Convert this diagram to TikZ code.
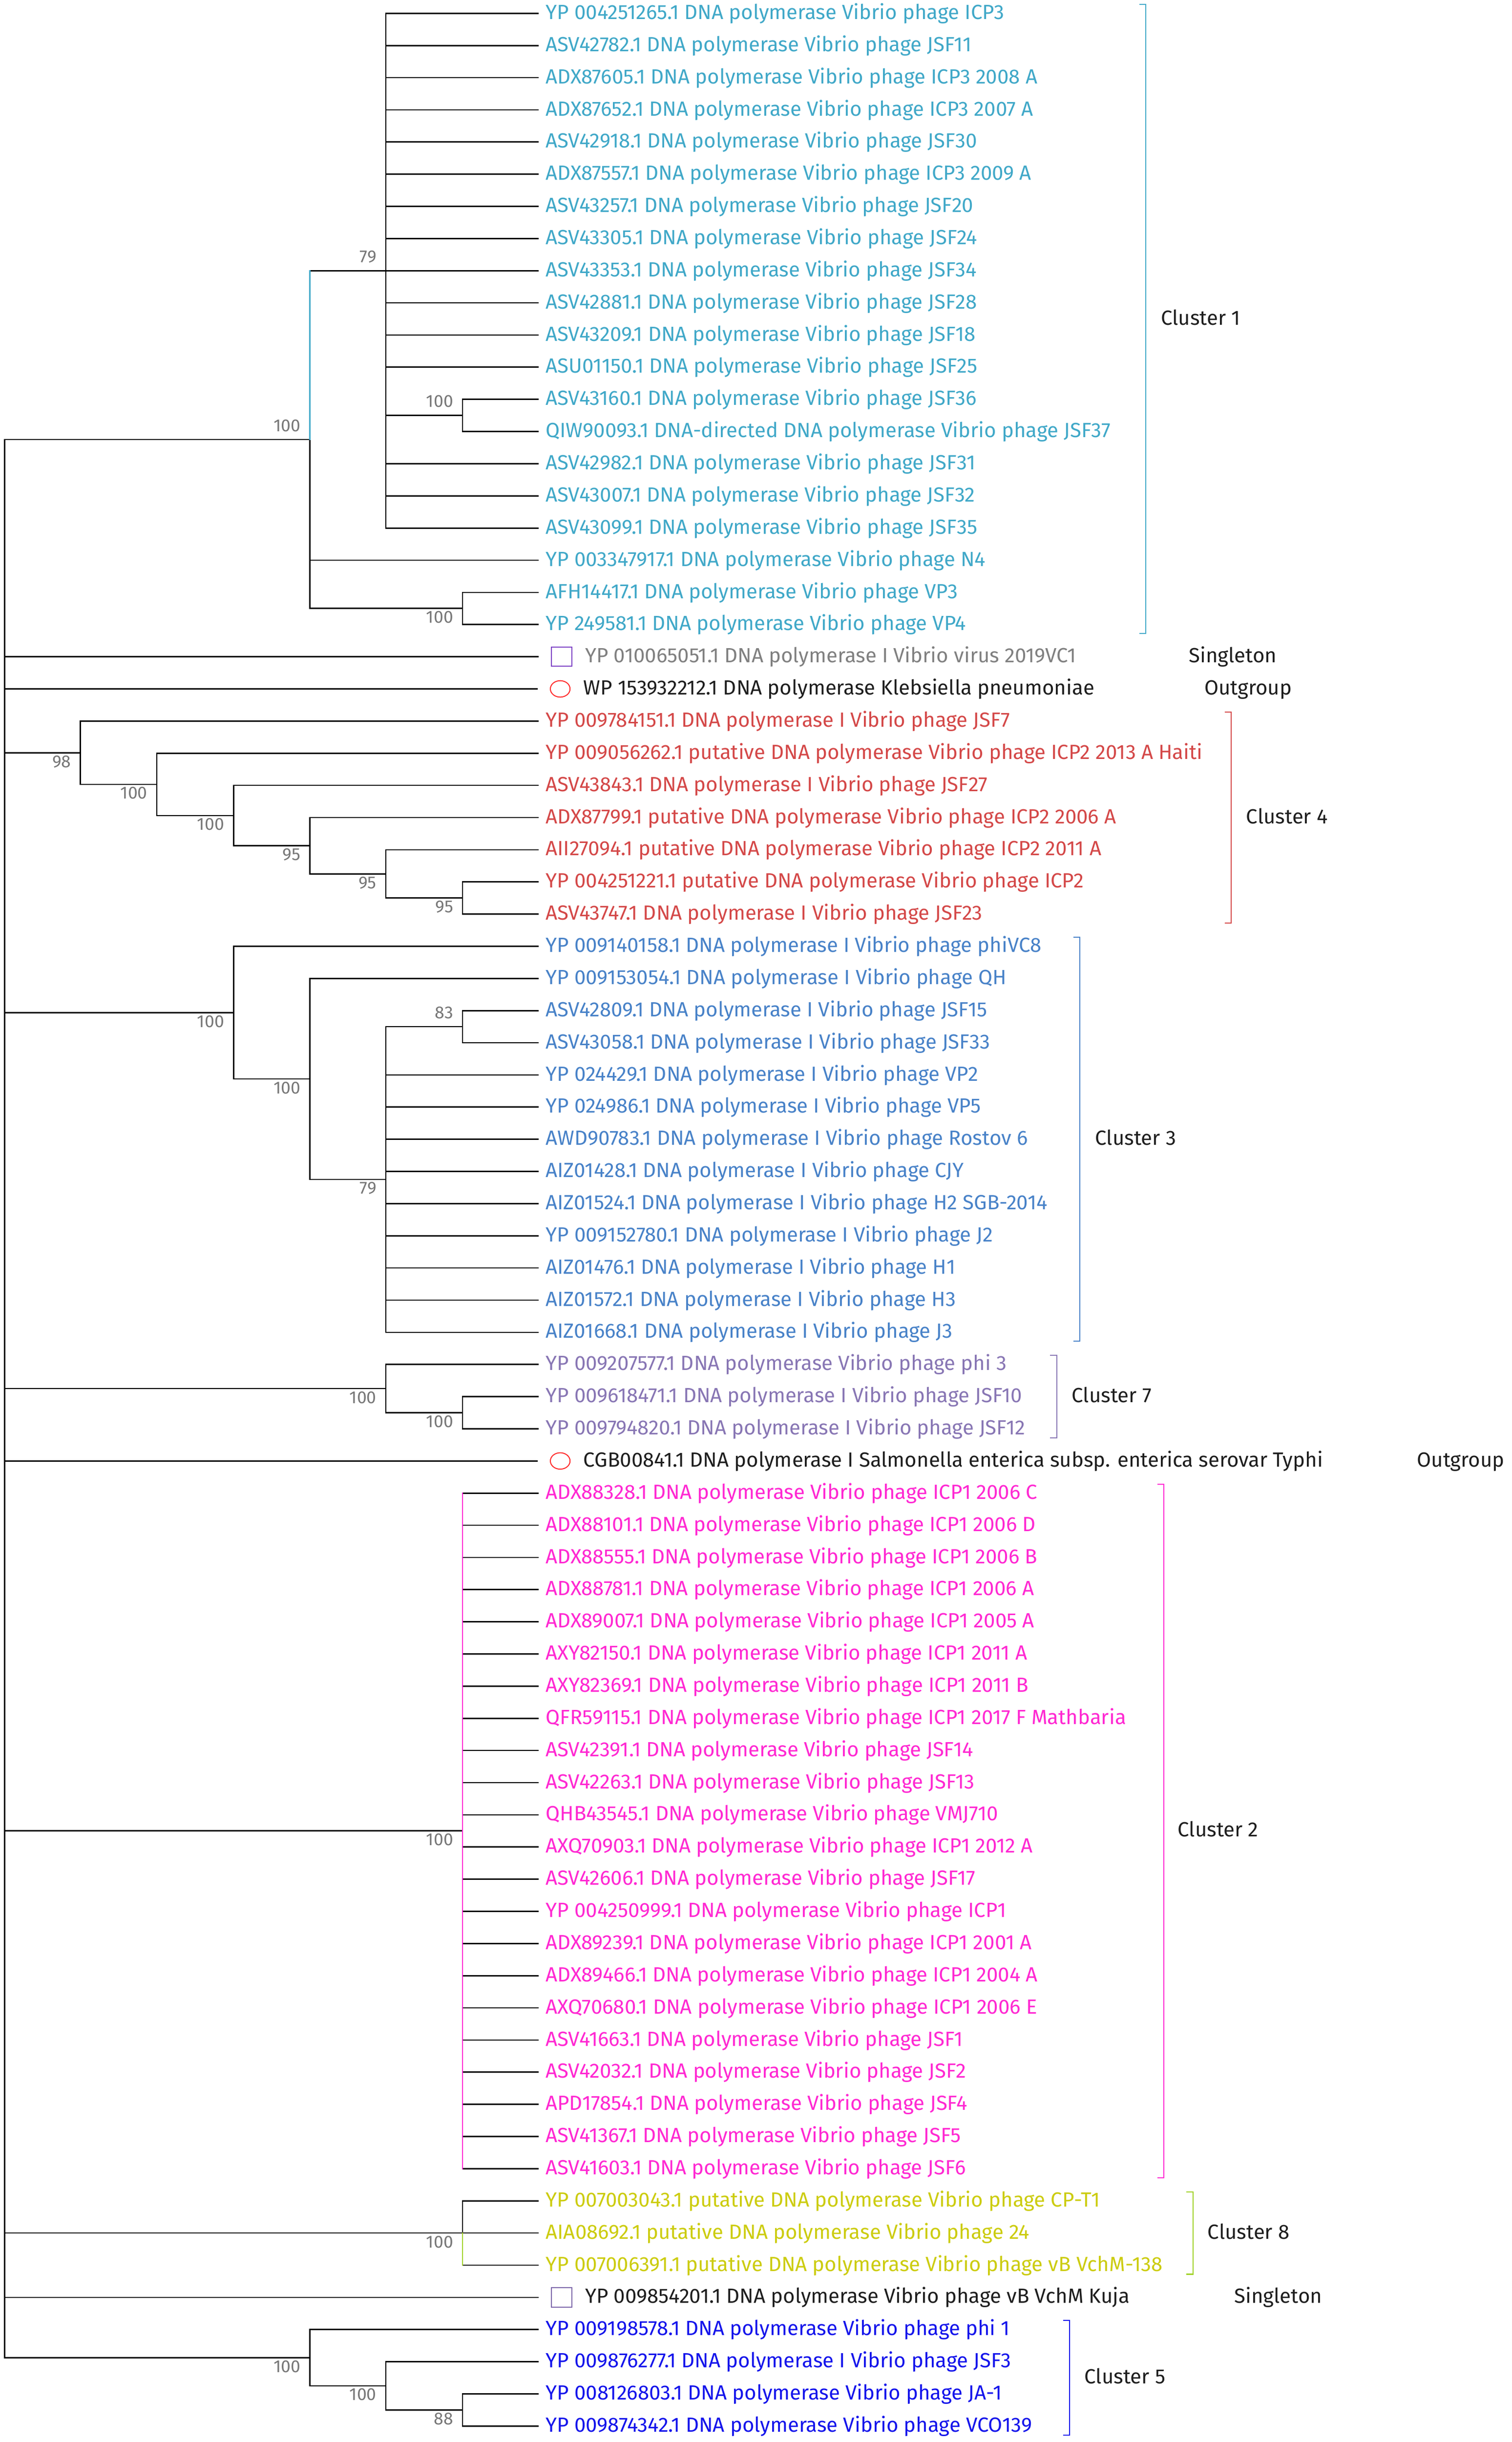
\documentclass[tikz,border=0pt]{standalone}
\usepackage{fontspec}
\setmainfont{Fira Sans}
\usetikzlibrary{positioning,shapes.geometric}

\definecolor{cOne}{HTML}{40A8C8}
\definecolor{cFour}{HTML}{D44848}
\definecolor{cThree}{HTML}{4882C8}
\definecolor{cSeven}{HTML}{8876B4}
\definecolor{cTwo}{HTML}{FF28D2}
\definecolor{cEight}{HTML}{CCCC10}
\definecolor{cEightLine}{HTML}{A0D228}
\definecolor{cFive}{HTML}{1414EB}
\definecolor{bootgray}{HTML}{777777}
\definecolor{singlegray}{HTML}{808080}
\definecolor{sqpurple}{HTML}{7B3FC4}
\definecolor{sqmuted}{HTML}{7A64A8}
\definecolor{ovred}{HTML}{FF2A2A}
\definecolor{labelblack}{HTML}{1E1E1E}

\tikzset{
  branch/.style={line width=0.8pt, line cap=rect},
  leaf/.style={anchor=west, inner xsep=4.5pt, inner ysep=0pt,
    font=\fontsize{12.5}{14}\selectfont, text height=0.72em, text depth=0pt},
  supabove/.style={anchor=base east, inner sep=0pt, xshift=-5.5pt, yshift=5pt,
    text=bootgray, font=\fontsize{10.6}{12}\selectfont},
  supbelow/.style={supabove, yshift=-13.9pt},
  bracket/.style={line width=0.7pt},
  clusterlabel/.style={anchor=west, inner sep=0pt, text=labelblack,
    font=\fontsize{12.5}{14}\selectfont, text height=0.72em, text depth=0pt},
  sqmark/.style={draw, rectangle, minimum width=12.5pt, minimum height=11.75pt,
    inner sep=0pt, outer xsep=8pt, outer ysep=0pt, line width=0.6pt},
  ovmark/.style={draw=ovred, ellipse, minimum width=12pt, minimum height=10pt,
    inner sep=0pt, outer xsep=8pt, outer ysep=0pt, line width=0.6pt},
}

\begin{document}
\begin{tikzpicture}[x=0.25pt, y=-19.595pt]

    \useasboundingbox (0,-0.4147) rectangle (3684,75.497);

    % Define nodes
    % Cluster 1
    \node[leaf, cOne] (l0)  at (1311,0)  {YP 004251265.1 DNA polymerase Vibrio phage ICP3};
    \node[leaf, cOne] (l1)  at (1311,1)  {ASV42782.1 DNA polymerase Vibrio phage JSF11};
    \node[leaf, cOne] (l2)  at (1311,2)  {ADX87605.1 DNA polymerase Vibrio phage ICP3 2008 A};
    \node[leaf, cOne] (l3)  at (1311,3)  {ADX87652.1 DNA polymerase Vibrio phage ICP3 2007 A};
    \node[leaf, cOne] (l4)  at (1311,4)  {ASV42918.1 DNA polymerase Vibrio phage JSF30};
    \node[leaf, cOne] (l5)  at (1311,5)  {ADX87557.1 DNA polymerase Vibrio phage ICP3 2009 A};
    \node[leaf, cOne] (l6)  at (1311,6)  {ASV43257.1 DNA polymerase Vibrio phage JSF20};
    \node[leaf, cOne] (l7)  at (1311,7)  {ASV43305.1 DNA polymerase Vibrio phage JSF24};
    \node[leaf, cOne] (l8)  at (1311,8)  {ASV43353.1 DNA polymerase Vibrio phage JSF34};
    \node[leaf, cOne] (l9)  at (1311,9)  {ASV42881.1 DNA polymerase Vibrio phage JSF28};
    \node[leaf, cOne] (l10) at (1311,10) {ASV43209.1 DNA polymerase Vibrio phage JSF18};
    \node[leaf, cOne] (l11) at (1311,11) {ASU01150.1 DNA polymerase Vibrio phage JSF25};
    \node[leaf, cOne] (l12) at (1311,12) {ASV43160.1 DNA polymerase Vibrio phage JSF36};
    \node[leaf, cOne] (l13) at (1311,13) {QIW90093.1 DNA-directed DNA polymerase Vibrio phage JSF37};
    \node[leaf, cOne] (l14) at (1311,14) {ASV42982.1 DNA polymerase Vibrio phage JSF31};
    \node[leaf, cOne] (l15) at (1311,15) {ASV43007.1 DNA polymerase Vibrio phage JSF32};
    \node[leaf, cOne] (l16) at (1311,16) {ASV43099.1 DNA polymerase Vibrio phage JSF35};
    \node[leaf, cOne] (l17) at (1311,17) {YP 003347917.1 DNA polymerase Vibrio phage N4};
    \node[leaf, cOne] (l18) at (1311,18) {AFH14417.1 DNA polymerase Vibrio phage VP3};
    \node[leaf, cOne] (l19) at (1311,19) {YP 249581.1 DNA polymerase Vibrio phage VP4};

    % Singleton and outgroup
    \node[sqmark, draw=sqpurple] (s20) at (1368,20) {};
    \node[leaf, inner xsep=0pt, singlegray] (l20) at (s20.east) {YP 010065051.1 DNA polymerase I Vibrio virus 2019VC1};
    \node[ovmark] (s21) at (1365,21) {};
    \node[leaf, inner xsep=0pt, labelblack] (l21) at (s21.east) {WP 153932212.1 DNA polymerase Klebsiella pneumoniae};

    % Cluster 4
    \node[leaf, cFour] (l22) at (1311,22) {YP 009784151.1 DNA polymerase I Vibrio phage JSF7};
    \node[leaf, cFour] (l23) at (1311,23) {YP 009056262.1 putative DNA polymerase Vibrio phage ICP2 2013 A Haiti};
    \node[leaf, cFour] (l24) at (1311,24) {ASV43843.1 DNA polymerase I Vibrio phage JSF27};
    \node[leaf, cFour] (l25) at (1311,25) {ADX87799.1 putative DNA polymerase Vibrio phage ICP2 2006 A};
    \node[leaf, cFour] (l26) at (1311,26) {AII27094.1 putative DNA polymerase Vibrio phage ICP2 2011 A};
    \node[leaf, cFour] (l27) at (1311,27) {YP 004251221.1 putative DNA polymerase Vibrio phage ICP2};
    \node[leaf, cFour] (l28) at (1311,28) {ASV43747.1 DNA polymerase I Vibrio phage JSF23};

    % Cluster 3
    \node[leaf, cThree] (l29) at (1311,29) {YP 009140158.1 DNA polymerase I Vibrio phage phiVC8};
    \node[leaf, cThree] (l30) at (1311,30) {YP 009153054.1 DNA polymerase I Vibrio phage QH};
    \node[leaf, cThree] (l31) at (1311,31) {ASV42809.1 DNA polymerase I Vibrio phage JSF15};
    \node[leaf, cThree] (l32) at (1311,32) {ASV43058.1 DNA polymerase I Vibrio phage JSF33};
    \node[leaf, cThree] (l33) at (1311,33) {YP 024429.1 DNA polymerase I Vibrio phage VP2};
    \node[leaf, cThree] (l34) at (1311,34) {YP 024986.1 DNA polymerase I Vibrio phage VP5};
    \node[leaf, cThree] (l35) at (1311,35) {AWD90783.1 DNA polymerase I Vibrio phage Rostov 6};
    \node[leaf, cThree] (l36) at (1311,36) {AIZ01428.1 DNA polymerase I Vibrio phage CJY};
    \node[leaf, cThree] (l37) at (1311,37) {AIZ01524.1 DNA polymerase I Vibrio phage H2 SGB-2014};
    \node[leaf, cThree] (l38) at (1311,38) {YP 009152780.1 DNA polymerase I Vibrio phage J2};
    \node[leaf, cThree] (l39) at (1311,39) {AIZ01476.1 DNA polymerase I Vibrio phage H1};
    \node[leaf, cThree] (l40) at (1311,40) {AIZ01572.1 DNA polymerase I Vibrio phage H3};
    \node[leaf, cThree] (l41) at (1311,41) {AIZ01668.1 DNA polymerase I Vibrio phage J3};

    % Cluster 7
    \node[leaf, cSeven] (l42) at (1311,42) {YP 009207577.1 DNA polymerase Vibrio phage phi 3};
    \node[leaf, cSeven] (l43) at (1311,43) {YP 009618471.1 DNA polymerase I Vibrio phage JSF10};
    \node[leaf, cSeven] (l44) at (1311,44) {YP 009794820.1 DNA polymerase I Vibrio phage JSF12};

    % Outgroup
    \node[ovmark] (s45) at (1365,45) {};
    \node[leaf, inner xsep=0pt, labelblack] (l45) at (s45.east) {CGB00841.1 DNA polymerase I Salmonella enterica subsp. enterica serovar Typhi};

    % Cluster 2
    \node[leaf, cTwo] (l46) at (1311,46) {ADX88328.1 DNA polymerase Vibrio phage ICP1 2006 C};
    \node[leaf, cTwo] (l47) at (1311,47) {ADX88101.1 DNA polymerase Vibrio phage ICP1 2006 D};
    \node[leaf, cTwo] (l48) at (1311,48) {ADX88555.1 DNA polymerase Vibrio phage ICP1 2006 B};
    \node[leaf, cTwo] (l49) at (1311,49) {ADX88781.1 DNA polymerase Vibrio phage ICP1 2006 A};
    \node[leaf, cTwo] (l50) at (1311,50) {ADX89007.1 DNA polymerase Vibrio phage ICP1 2005 A};
    \node[leaf, cTwo] (l51) at (1311,51) {AXY82150.1 DNA polymerase Vibrio phage ICP1 2011 A};
    \node[leaf, cTwo] (l52) at (1311,52) {AXY82369.1 DNA polymerase Vibrio phage ICP1 2011 B};
    \node[leaf, cTwo] (l53) at (1311,53) {QFR59115.1 DNA polymerase Vibrio phage ICP1 2017 F Mathbaria};
    \node[leaf, cTwo] (l54) at (1311,54) {ASV42391.1 DNA polymerase Vibrio phage JSF14};
    \node[leaf, cTwo] (l55) at (1311,55) {ASV42263.1 DNA polymerase Vibrio phage JSF13};
    \node[leaf, cTwo] (l56) at (1311,56) {QHB43545.1 DNA polymerase Vibrio phage VMJ710};
    \node[leaf, cTwo] (l57) at (1311,57) {AXQ70903.1 DNA polymerase Vibrio phage ICP1 2012 A};
    \node[leaf, cTwo] (l58) at (1311,58) {ASV42606.1 DNA polymerase Vibrio phage JSF17};
    \node[leaf, cTwo] (l59) at (1311,59) {YP 004250999.1 DNA polymerase Vibrio phage ICP1};
    \node[leaf, cTwo] (l60) at (1311,60) {ADX89239.1 DNA polymerase Vibrio phage ICP1 2001 A};
    \node[leaf, cTwo] (l61) at (1311,61) {ADX89466.1 DNA polymerase Vibrio phage ICP1 2004 A};
    \node[leaf, cTwo] (l62) at (1311,62) {AXQ70680.1 DNA polymerase Vibrio phage ICP1 2006 E};
    \node[leaf, cTwo] (l63) at (1311,63) {ASV41663.1 DNA polymerase Vibrio phage JSF1};
    \node[leaf, cTwo] (l64) at (1311,64) {ASV42032.1 DNA polymerase Vibrio phage JSF2};
    \node[leaf, cTwo] (l65) at (1311,65) {APD17854.1 DNA polymerase Vibrio phage JSF4};
    \node[leaf, cTwo] (l66) at (1311,66) {ASV41367.1 DNA polymerase Vibrio phage JSF5};
    \node[leaf, cTwo] (l67) at (1311,67) {ASV41603.1 DNA polymerase Vibrio phage JSF6};

    % Cluster 8
    \node[leaf, cEight] (l68) at (1311,68) {YP 007003043.1 putative DNA polymerase Vibrio phage CP-T1};
    \node[leaf, cEight] (l69) at (1311,69) {AIA08692.1 putative DNA polymerase Vibrio phage 24};
    \node[leaf, cEight] (l70) at (1311,70) {YP 007006391.1 putative DNA polymerase Vibrio phage vB VchM-138};

    % Singleton
    \node[sqmark, draw=sqmuted] (s71) at (1368,71) {};
    \node[leaf, inner xsep=0pt, labelblack] (l71) at (s71.east) {YP 009854201.1 DNA polymerase Vibrio phage vB VchM Kuja};

    % Cluster 5
    \node[leaf, cFive] (l72) at (1311,72) {YP 009198578.1 DNA polymerase Vibrio phage phi 1};
    \node[leaf, cFive] (l73) at (1311,73) {YP 009876277.1 DNA polymerase I Vibrio phage JSF3};
    \node[leaf, cFive] (l74) at (1311,74) {YP 008126803.1 DNA polymerase Vibrio phage JA-1};
    \node[leaf, cFive] (l75) at (1311,75) {YP 009874342.1 DNA polymerase Vibrio phage VCO139};

    % Inner nodes of the tree
    \coordinate (root) at (11,43.0625);
    \coordinate (nA) at (755,13.25);
    \coordinate (nB) at (940,8);
    \coordinate (nC) at (1127,12.5);
    \coordinate (nD) at (1127,18.5);
    \coordinate (nE) at (196,22.984375);
    \coordinate (nF) at (382,23.96875);
    \coordinate (nG) at (569,24.9375);
    \coordinate (nH) at (755,25.875);
    \coordinate (nI) at (940,26.75);
    \coordinate (nJ) at (1127,27.5);
    \coordinate (nK) at (569,31.0625);
    \coordinate (nL) at (755,33.125);
    \coordinate (nM) at (940,36.25);
    \coordinate (nN) at (1127,31.5);
    \coordinate (nO) at (940,42.75);
    \coordinate (nP) at (1127,43.5);
    \coordinate (nQ) at (1127,56.5);
    \coordinate (nR) at (1127,69);
    \coordinate (nS) at (755,72.875);
    \coordinate (nT) at (940,73.75);
    \coordinate (nU) at (1127,74.5);

    % Connect the nodes
    \foreach \c in {nA,s20,s21,nE,nK,nO,s45,nQ,nR,s71,nS}
        \draw[branch] (root) |- (\c);

    \foreach \c in {nB,l17,nD} \draw[branch] (nA) |- (\c);
    \foreach \c in {l0,l1,l2,l3,l4,l5,l6,l7,l8,l9,l10,l11,nC,l14,l15,l16}
        \draw[branch] (nB) |- (\c);
    \foreach \c in {l12,l13} \draw[branch] (nC) |- (\c);
    \foreach \c in {l18,l19} \draw[branch] (nD) |- (\c);
    \draw[branch, cOne] (nA) -- (nA |- nB);

    \foreach \c in {l22,nF} \draw[branch] (nE) |- (\c);
    \foreach \c in {l23,nG} \draw[branch] (nF) |- (\c);
    \foreach \c in {l24,nH} \draw[branch] (nG) |- (\c);
    \foreach \c in {l25,nI} \draw[branch] (nH) |- (\c);
    \foreach \c in {l26,nJ} \draw[branch] (nI) |- (\c);
    \foreach \c in {l27,l28} \draw[branch] (nJ) |- (\c);

    \foreach \c in {l29,nL} \draw[branch] (nK) |- (\c);
    \foreach \c in {l30,nM} \draw[branch] (nL) |- (\c);
    \foreach \c in {nN,l33,l34,l35,l36,l37,l38,l39,l40,l41}
        \draw[branch] (nM) |- (\c);
    \foreach \c in {l31,l32} \draw[branch] (nN) |- (\c);

    \foreach \c in {l42,nP} \draw[branch] (nO) |- (\c);
    \foreach \c in {l43,l44} \draw[branch] (nP) |- (\c);

    \foreach \i in {46,...,67} \draw[branch] (nQ) |- (l\i);
    \draw[branch, cTwo] (nQ |- l46) -- (nQ |- l67);

    \foreach \c in {l68,l69,l70} \draw[branch] (nR) |- (\c);
    \draw[branch, cEightLine] (nR) -- (nR |- l70);

    \foreach \c in {l72,nT} \draw[branch] (nS) |- (\c);
    \foreach \c in {l73,nU} \draw[branch] (nT) |- (\c);
    \foreach \c in {l74,l75} \draw[branch] (nU) |- (\c);

    % Support values
    \node[supabove] (bA) at (nA) {100};
    \node[supabove] (bB) at (nB) {79};
    \node[supabove] (bC) at (nC) {100};
    \node[supbelow] (bD) at (nD) {100};
    \node[supbelow] (bE) at (nE) {98};
    \node[supbelow] (bF) at (nF) {100};
    \node[supbelow] (bG) at (nG) {100};
    \node[supbelow] (bH) at (nH) {95};
    \node[supbelow] (bI) at (nI) {95};
    \node[supbelow] (bJ) at (nJ) {95};
    \node[supbelow] (bK) at (nK) {100};
    \node[supbelow] (bL) at (nL) {100};
    \node[supbelow] (bM) at (nM) {79};
    \node[supabove] (bN) at (nN) {83};
    \node[supbelow] (bO) at (nO) {100};
    \node[supbelow] (bP) at (nP) {100};
    \node[supbelow] (bQ) at (nQ) {100};
    \node[supbelow] (bR) at (nR) {100};
    \node[supbelow] (bS) at (nS) {100};
    \node[supbelow] (bT) at (nT) {100};
    \node[supbelow] (bU) at (nU) {88};

    % Cluster brackets
    \draw[bracket, cOne]       (2776,-0.28) -| (2792,19.28) -- +(-16,0);
    \draw[bracket, cFour]      (2984,21.72) -| (3000,28.28) -- +(-16,0);
    \draw[bracket, cThree]     (2615,28.72) -| (2631,41.28) -- +(-16,0);
    \draw[bracket, cSeven]     (2559,41.72) -| (2575,44.28) -- +(-16,0);
    \draw[bracket, cTwo]       (2820,45.72) -| (2836,67.28) -- +(-16,0);
    \draw[bracket, cEightLine] (2891,67.72) -| (2907,70.28) -- +(-16,0);
    \draw[bracket, cFive]      (2590,71.72) -| (2606,75.28) -- +(-16,0);

    % Cluster labels
    \node[clusterlabel] (k1)  at (2828,9.5)  {Cluster 1};
    \node[clusterlabel] (k20) at (2896,20)   {Singleton};
    \node[clusterlabel] (k21) at (2934,21)   {Outgroup};
    \node[clusterlabel] (k4)  at (3036,25)   {Cluster 4};
    \node[clusterlabel] (k3)  at (2668,35)   {Cluster 3};
    \node[clusterlabel] (k7)  at (2611,43)   {Cluster 7};
    \node[clusterlabel] (k45) at (3452,45)   {Outgroup};
    \node[clusterlabel] (k2)  at (2869,56.5) {Cluster 2};
    \node[clusterlabel] (k8)  at (2942,69)   {Cluster 8};
    \node[clusterlabel] (k71) at (3007,71)   {Singleton};
    \node[clusterlabel] (k5)  at (2642,73.5) {Cluster 5};

\end{tikzpicture}
\end{document}
